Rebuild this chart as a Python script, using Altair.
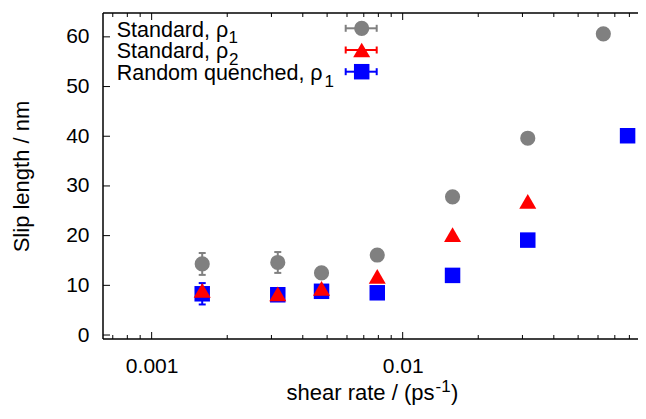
import altair as alt
import pandas as pd

# ---------------- data ----------------
rate_std1 = [0.00159, 0.00318, 0.00475, 0.00792, 0.0158, 0.0315, 0.063]
slip_std1 = [14.3, 14.6, 12.5, 16.1, 27.8, 39.6, 60.6]
err_std1 = [2.2, 2.1, 0, 0, 0, 0, 0]

rate_std2 = [0.00159, 0.00318, 0.00475, 0.00792, 0.0158, 0.0315]
slip_std2 = [9.0, 8.3, 9.4, 11.8, 20.2, 26.9]
err_std2 = [0, 0, 0, 0, 0, 0]

rate_rq = [0.00159, 0.00318, 0.00475, 0.00792, 0.0158, 0.0315, 0.0787]
slip_rq = [8.3, 8.1, 8.8, 8.5, 12.0, 19.1, 40.1]
err_rq = [2.15, 0, 0, 0, 0, 0, 0]

series_names = ["Standard, ρ", "Standard, ρ", "Random quenched, ρ"]
series_subs = ["1", "2", "1"]

x_title_parts = ["shear rate / (ps", "-1", ")"]
y_title = "Slip length / nm"

x_major = [0.001, 0.01]
x_minor = [0.0007, 0.0008, 0.0009,
           0.002, 0.003, 0.004, 0.005, 0.006, 0.007, 0.008, 0.009,
           0.02, 0.03, 0.04, 0.05, 0.06, 0.07, 0.08, 0.09]
y_ticks = [0, 10, 20, 30, 40, 50, 60]

x_domain = [0.00064, 0.0949]
y_domain = [-0.8, 64.8]

# ---------------- styling / layout ----------------
FONT = "Liberation Sans"
W, H = 545, 326
GRAY, RED, BLUE = "#808080", "#ff0000", "#0000ff"
SIZES = {"circle": 230, "triangle-up": 290, "square": 240}

x_scale = alt.Scale(type="log", domain=x_domain, nice=False)
y_scale = alt.Scale(domain=y_domain, nice=False, zero=False)

x_axis = alt.Axis(values=x_major, format="~g", ticks=False, domain=False, grid=False,
                  labelPadding=16, labelFlush=False, title=None)
y_axis = alt.Axis(values=y_ticks, ticks=False, domain=False, grid=False,
                  labelPadding=14,
                  title=y_title, titleX=-75, titleY=163, titleAngle=270,
                  titleAlign="center", titleBaseline="alphabetic")


def X(field):
    return alt.X(f"{field}:Q", scale=x_scale, axis=x_axis)


def Y(field):
    return alt.Y(f"{field}:Q", scale=y_scale, axis=y_axis)


def series_layers(rates, slips, errs, color, shape):
    df = pd.DataFrame({"rate": rates, "slip": slips, "err": errs})
    base = alt.Chart(df)
    eb = base.transform_filter("datum.err > 0").transform_calculate(
        lo="datum.slip - datum.err", hi="datum.slip + datum.err")
    bar = eb.mark_rule(color=color, strokeWidth=2).encode(
        x=X("rate"), y=Y("lo"), y2="hi:Q")
    cap_lo = eb.mark_tick(color=color, orient="horizontal", size=7, thickness=2,
                          opacity=1).encode(x=X("rate"), y=Y("lo"))
    cap_hi = eb.mark_tick(color=color, orient="horizontal", size=7, thickness=2,
                          opacity=1).encode(x=X("rate"), y=Y("hi"))
    pts = base.mark_point(shape=shape, filled=True, size=SIZES[shape], color=color,
                          opacity=1, strokeWidth=0).encode(x=X("rate"), y=Y("slip"))
    return [bar, cap_lo, cap_hi, pts]


# ---------------- frame (left, top, bottom; right edge lies off the page) ----------------
one = pd.DataFrame({"k": [0]})
fc = alt.Chart(one).mark_rule(color="black", strokeWidth=1.5)
frame_layers = [
    fc.encode(x=alt.value(0), y=alt.value(0), y2=alt.value(H)),
    fc.encode(x=alt.value(0), x2=alt.value(W), y=alt.value(0)),
    fc.encode(x=alt.value(0), x2=alt.value(W), y=alt.value(H)),
]

# ---------------- ticks (inward, mirrored on all sides) ----------------
maj_df = pd.DataFrame({"t": x_major})
min_df = pd.DataFrame({"t": x_minor})
yt_df = pd.DataFrame({"v": y_ticks})

tick_layers = []
for df, ln in ((maj_df, 7), (min_df, 4)):
    c = alt.Chart(df).mark_rule(color="black", strokeWidth=1)
    tick_layers.append(c.encode(x=X("t"), y=alt.value(H), y2=alt.value(H - ln)))
    tick_layers.append(c.encode(x=X("t"), y=alt.value(0), y2=alt.value(ln)))
cy = alt.Chart(yt_df).mark_rule(color="black", strokeWidth=1)
tick_layers.append(cy.encode(y=Y("v"), x=alt.value(0), x2=alt.value(7)))
tick_layers.append(cy.encode(y=Y("v"), x=alt.value(W), x2=alt.value(W - 7)))

# ---------------- x-axis title with superscript ----------------
tdf = pd.DataFrame({"a": [x_title_parts[0]], "b": [x_title_parts[1]],
                    "c": [x_title_parts[2]]})
tc = alt.Chart(tdf)
title_layers = [
    tc.mark_text(align="right", baseline="alphabetic", fontSize=22, color="black").encode(
        x=alt.value(331.5), y=alt.value(H + 61), text="a:N"),
    tc.mark_text(align="left", baseline="alphabetic", fontSize=17, color="black").encode(
        x=alt.value(332.5), y=alt.value(H + 53), text="b:N"),
    tc.mark_text(align="left", baseline="alphabetic", fontSize=22, color="black").encode(
        x=alt.value(348), y=alt.value(H + 61), text="c:N"),
]

# ---------------- legend ----------------
legend_y = [15.3, 37.0, 58.7]
legend_colors = [GRAY, RED, BLUE]
legend_shapes = ["circle", "triangle-up", "square"]
sub_x = [125.5, 126.0, 221.5]
LX0, LX1, LXC = 242.7, 273.7, 258.7

legend_layers = []
for i in range(3):
    ly = legend_y[i]
    col = legend_colors[i]
    shp = legend_shapes[i]
    ldf = pd.DataFrame({"name": [series_names[i]], "sub": [series_subs[i]]})
    lc = alt.Chart(ldf)
    legend_layers += [
        lc.mark_rule(color=col, strokeWidth=2).encode(
            x=alt.value(LX0), x2=alt.value(LX1), y=alt.value(ly)),
        lc.mark_rule(color=col, strokeWidth=2).encode(
            x=alt.value(LX0), y=alt.value(ly - 3.5), y2=alt.value(ly + 3.5)),
        lc.mark_rule(color=col, strokeWidth=2).encode(
            x=alt.value(LX1), y=alt.value(ly - 3.5), y2=alt.value(ly + 3.5)),
        lc.mark_point(shape=shp, filled=True, size=SIZES[shp], color=col,
                      opacity=1, strokeWidth=0).encode(
            x=alt.value(LXC), y=alt.value(ly)),
        lc.mark_text(align="left", baseline="alphabetic", fontSize=21.5,
                     color="black").encode(
            x=alt.value(13.7), y=alt.value(ly + 8.4), text="name:N"),
        lc.mark_text(align="left", baseline="alphabetic", fontSize=17,
                     color="black").encode(
            x=alt.value(sub_x[i]), y=alt.value(ly + 15), text="sub:N"),
    ]

layers = (frame_layers
          + series_layers(rate_std1, slip_std1, err_std1, GRAY, "circle")
          + series_layers(rate_rq, slip_rq, err_rq, BLUE, "square")
          + series_layers(rate_std2, slip_std2, err_std2, RED, "triangle-up")
          + tick_layers + title_layers + legend_layers)

chart = alt.layer(*layers).properties(
    width=W, height=H,
    autosize=alt.AutoSizeParams(type="none"),
    padding={"left": 95, "top": 5, "right": -10, "bottom": 66},
    background="white",
).configure(font=FONT).configure_view(
    strokeWidth=0
).configure_axis(
    labelFont=FONT, labelFontSize=21, labelColor="black",
    titleFont=FONT, titleFontSize=22, titleFontWeight="normal", titleColor="black",
)

chart.save("out.html", embed_options={"renderer": "svg", "actions": False})
